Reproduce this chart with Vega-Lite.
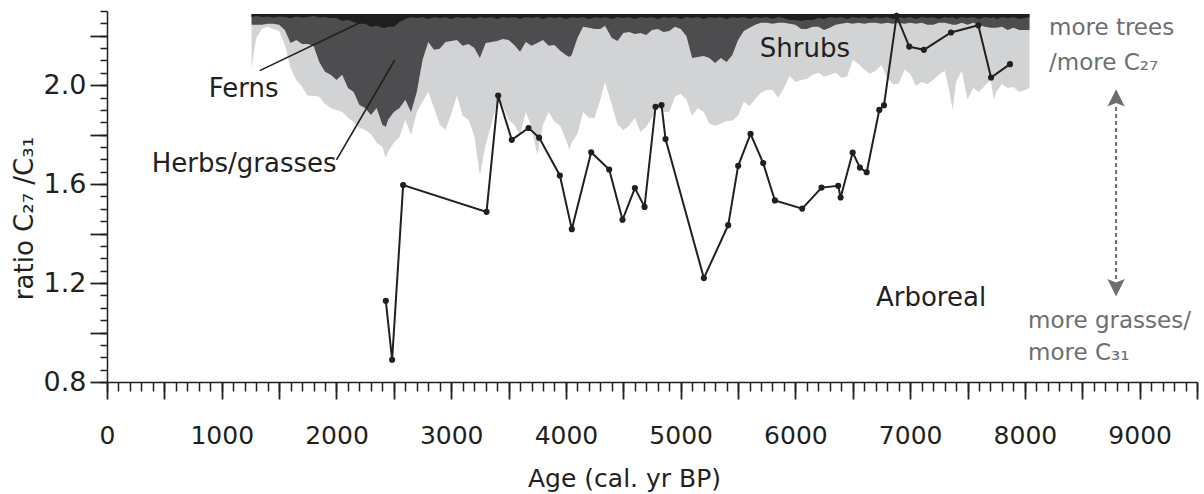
{
  "$schema": "https://vega.github.io/schema/vega-lite/v6.json",
  "width": 1090,
  "height": 371,
  "autosize": {"type": "none"},
  "padding": {"left": 107, "top": 11, "right": 7, "bottom": 112},
  "background": "white",
  "config": {
    "view": {"stroke": null},
    "axis": {"grid": false, "labelFont": "DejaVu Sans", "titleFont": "DejaVu Sans", "titleFontWeight": "normal", "domainColor": "#231f20", "tickColor": "#231f20", "labelColor": "#231f20", "titleColor": "#231f20", "domainWidth": 1.5, "tickWidth": 1.5}
  },
  "resolve": {"axis": {"x": "independent", "y": "independent"}},
  "datasets": {
    "pollen": [
      {"age":1260,"shrub":2.070,"herb":2.244,"fern":2.276},
      {"age":1300,"shrub":2.191,"herb":2.244,"fern":2.280},
      {"age":1350,"shrub":2.227,"herb":2.244,"fern":2.276},
      {"age":1400,"shrub":2.236,"herb":2.248,"fern":2.278},
      {"age":1450,"shrub":2.227,"herb":2.248,"fern":2.274},
      {"age":1500,"shrub":2.219,"herb":2.244,"fern":2.278},
      {"age":1550,"shrub":2.163,"herb":2.223,"fern":2.276},
      {"age":1600,"shrub":2.070,"herb":2.171,"fern":2.272},
      {"age":1650,"shrub":2.021,"herb":2.183,"fern":2.278},
      {"age":1700,"shrub":1.993,"herb":2.167,"fern":2.274},
      {"age":1750,"shrub":1.957,"herb":2.167,"fern":2.276},
      {"age":1800,"shrub":1.957,"herb":2.159,"fern":2.280},
      {"age":1850,"shrub":1.953,"herb":2.094,"fern":2.274},
      {"age":1900,"shrub":1.924,"herb":2.054,"fern":2.276},
      {"age":1950,"shrub":1.908,"herb":2.042,"fern":2.272},
      {"age":2000,"shrub":1.900,"herb":2.021,"fern":2.272},
      {"age":2050,"shrub":1.892,"herb":2.042,"fern":2.260},
      {"age":2100,"shrub":1.868,"herb":1.989,"fern":2.264},
      {"age":2150,"shrub":1.852,"herb":1.973,"fern":2.256},
      {"age":2200,"shrub":1.828,"herb":1.920,"fern":2.248},
      {"age":2250,"shrub":1.819,"herb":1.908,"fern":2.248},
      {"age":2300,"shrub":1.803,"herb":1.880,"fern":2.236},
      {"age":2350,"shrub":1.767,"herb":1.908,"fern":2.240},
      {"age":2400,"shrub":1.751,"herb":1.840,"fern":2.232},
      {"age":2430,"shrub":1.706,"herb":1.832,"fern":2.232},
      {"age":2450,"shrub":1.731,"herb":1.860,"fern":2.236},
      {"age":2500,"shrub":1.767,"herb":1.892,"fern":2.236},
      {"age":2550,"shrub":1.791,"herb":1.908,"fern":2.256},
      {"age":2600,"shrub":1.860,"herb":1.941,"fern":2.268},
      {"age":2650,"shrub":1.799,"herb":1.892,"fern":2.276},
      {"age":2700,"shrub":1.892,"herb":1.973,"fern":2.272},
      {"age":2750,"shrub":1.933,"herb":2.102,"fern":2.276},
      {"age":2800,"shrub":1.973,"herb":2.175,"fern":2.268},
      {"age":2850,"shrub":1.908,"herb":2.143,"fern":2.276},
      {"age":2900,"shrub":1.840,"herb":2.147,"fern":2.272},
      {"age":2950,"shrub":1.819,"herb":2.175,"fern":2.276},
      {"age":3000,"shrub":1.884,"herb":2.179,"fern":2.268},
      {"age":3050,"shrub":1.957,"herb":2.183,"fern":2.276},
      {"age":3100,"shrub":1.876,"herb":2.159,"fern":2.272},
      {"age":3150,"shrub":1.860,"herb":2.167,"fern":2.276},
      {"age":3200,"shrub":1.799,"herb":2.151,"fern":2.268},
      {"age":3250,"shrub":1.638,"herb":2.110,"fern":2.276},
      {"age":3300,"shrub":1.759,"herb":2.171,"fern":2.272},
      {"age":3350,"shrub":1.840,"herb":2.175,"fern":2.276},
      {"age":3400,"shrub":1.933,"herb":2.179,"fern":2.268},
      {"age":3450,"shrub":1.916,"herb":2.187,"fern":2.276},
      {"age":3500,"shrub":1.860,"herb":2.183,"fern":2.272},
      {"age":3550,"shrub":1.840,"herb":2.163,"fern":2.276},
      {"age":3600,"shrub":1.799,"herb":2.135,"fern":2.268},
      {"age":3650,"shrub":1.892,"herb":2.175,"fern":2.276},
      {"age":3700,"shrub":1.832,"herb":2.159,"fern":2.272},
      {"age":3750,"shrub":1.718,"herb":2.171,"fern":2.276},
      {"age":3800,"shrub":1.840,"herb":2.183,"fern":2.268},
      {"age":3850,"shrub":1.892,"herb":2.159,"fern":2.276},
      {"age":3900,"shrub":1.852,"herb":2.163,"fern":2.272},
      {"age":3950,"shrub":1.836,"herb":2.139,"fern":2.276},
      {"age":4000,"shrub":1.779,"herb":2.122,"fern":2.268},
      {"age":4030,"shrub":1.739,"herb":2.114,"fern":2.272},
      {"age":4050,"shrub":1.767,"herb":2.122,"fern":2.276},
      {"age":4100,"shrub":1.803,"herb":2.191,"fern":2.272},
      {"age":4150,"shrub":1.892,"herb":2.236,"fern":2.276},
      {"age":4200,"shrub":1.868,"herb":2.232,"fern":2.268},
      {"age":4250,"shrub":1.868,"herb":2.227,"fern":2.276},
      {"age":4300,"shrub":1.941,"herb":2.227,"fern":2.272},
      {"age":4340,"shrub":2.013,"herb":2.240,"fern":2.276},
      {"age":4400,"shrub":1.920,"herb":2.191,"fern":2.268},
      {"age":4450,"shrub":1.840,"herb":2.179,"fern":2.276},
      {"age":4500,"shrub":1.819,"herb":2.211,"fern":2.272},
      {"age":4550,"shrub":1.836,"herb":2.215,"fern":2.276},
      {"age":4600,"shrub":1.868,"herb":2.207,"fern":2.268},
      {"age":4650,"shrub":1.811,"herb":2.211,"fern":2.276},
      {"age":4700,"shrub":1.832,"herb":2.203,"fern":2.272},
      {"age":4750,"shrub":1.868,"herb":2.223,"fern":2.276},
      {"age":4800,"shrub":1.908,"herb":2.227,"fern":2.268},
      {"age":4850,"shrub":1.892,"herb":2.215,"fern":2.276},
      {"age":4900,"shrub":1.892,"herb":2.219,"fern":2.272},
      {"age":4950,"shrub":1.953,"herb":2.236,"fern":2.276},
      {"age":5000,"shrub":1.965,"herb":2.227,"fern":2.268},
      {"age":5050,"shrub":1.941,"herb":2.199,"fern":2.276},
      {"age":5100,"shrub":1.876,"herb":2.110,"fern":2.272},
      {"age":5150,"shrub":1.908,"herb":2.114,"fern":2.276},
      {"age":5200,"shrub":1.892,"herb":2.118,"fern":2.268},
      {"age":5250,"shrub":1.844,"herb":2.110,"fern":2.276},
      {"age":5300,"shrub":1.836,"herb":2.090,"fern":2.272},
      {"age":5350,"shrub":1.844,"herb":2.110,"fern":2.276},
      {"age":5400,"shrub":1.856,"herb":2.094,"fern":2.268},
      {"age":5450,"shrub":1.856,"herb":2.122,"fern":2.276},
      {"age":5500,"shrub":1.876,"herb":2.183,"fern":2.272},
      {"age":5550,"shrub":1.933,"herb":2.219,"fern":2.276},
      {"age":5600,"shrub":1.916,"herb":2.232,"fern":2.268},
      {"age":5650,"shrub":1.945,"herb":2.244,"fern":2.276},
      {"age":5700,"shrub":1.969,"herb":2.252,"fern":2.272},
      {"age":5750,"shrub":1.981,"herb":2.252,"fern":2.276},
      {"age":5800,"shrub":1.981,"herb":2.248,"fern":2.268},
      {"age":5850,"shrub":1.949,"herb":2.252,"fern":2.276},
      {"age":5900,"shrub":1.989,"herb":2.252,"fern":2.272},
      {"age":5950,"shrub":2.038,"herb":2.248,"fern":2.264},
      {"age":6000,"shrub":2.013,"herb":2.244,"fern":2.264},
      {"age":6050,"shrub":2.021,"herb":2.227,"fern":2.260},
      {"age":6100,"shrub":2.025,"herb":2.227,"fern":2.264},
      {"age":6150,"shrub":2.042,"herb":2.236,"fern":2.264},
      {"age":6200,"shrub":2.050,"herb":2.236,"fern":2.272},
      {"age":6250,"shrub":2.034,"herb":2.223,"fern":2.268},
      {"age":6300,"shrub":2.042,"herb":2.232,"fern":2.276},
      {"age":6350,"shrub":2.050,"herb":2.244,"fern":2.272},
      {"age":6400,"shrub":2.030,"herb":2.248,"fern":2.276},
      {"age":6450,"shrub":2.034,"herb":2.252,"fern":2.268},
      {"age":6500,"shrub":2.102,"herb":2.248,"fern":2.276},
      {"age":6550,"shrub":2.086,"herb":2.252,"fern":2.272},
      {"age":6600,"shrub":2.062,"herb":2.248,"fern":2.276},
      {"age":6650,"shrub":2.046,"herb":2.252,"fern":2.268},
      {"age":6700,"shrub":2.058,"herb":2.252,"fern":2.276},
      {"age":6750,"shrub":2.082,"herb":2.248,"fern":2.272},
      {"age":6800,"shrub":2.030,"herb":2.252,"fern":2.276},
      {"age":6850,"shrub":2.005,"herb":2.248,"fern":2.268},
      {"age":6900,"shrub":2.005,"herb":2.252,"fern":2.276},
      {"age":6950,"shrub":2.062,"herb":2.248,"fern":2.272},
      {"age":7000,"shrub":2.046,"herb":2.252,"fern":2.276},
      {"age":7050,"shrub":1.997,"herb":2.248,"fern":2.268},
      {"age":7100,"shrub":2.013,"herb":2.252,"fern":2.276},
      {"age":7150,"shrub":2.005,"herb":2.244,"fern":2.272},
      {"age":7200,"shrub":2.021,"herb":2.244,"fern":2.276},
      {"age":7250,"shrub":2.042,"herb":2.252,"fern":2.268},
      {"age":7300,"shrub":2.058,"herb":2.252,"fern":2.276},
      {"age":7340,"shrub":1.981,"herb":2.248,"fern":2.272},
      {"age":7370,"shrub":1.900,"herb":2.244,"fern":2.276},
      {"age":7400,"shrub":2.013,"herb":2.244,"fern":2.268},
      {"age":7450,"shrub":2.058,"herb":2.252,"fern":2.276},
      {"age":7500,"shrub":1.941,"herb":2.244,"fern":2.272},
      {"age":7550,"shrub":1.989,"herb":2.252,"fern":2.276},
      {"age":7600,"shrub":1.973,"herb":2.244,"fern":2.268},
      {"age":7650,"shrub":1.997,"herb":2.236,"fern":2.276},
      {"age":7700,"shrub":2.021,"herb":2.232,"fern":2.272},
      {"age":7730,"shrub":1.941,"herb":2.232,"fern":2.276},
      {"age":7750,"shrub":1.973,"herb":2.232,"fern":2.268},
      {"age":7800,"shrub":2.005,"herb":2.236,"fern":2.276},
      {"age":7850,"shrub":1.989,"herb":2.223,"fern":2.272},
      {"age":7900,"shrub":1.993,"herb":2.232,"fern":2.276},
      {"age":7950,"shrub":1.973,"herb":2.223,"fern":2.268},
      {"age":8000,"shrub":1.981,"herb":2.223,"fern":2.272},
      {"age":8040,"shrub":1.989,"herb":2.223,"fern":2.276}
    ],
    "ratio": [
      {"age":2430,"val":1.128},{"age":2485,"val":0.890},{"age":2581,"val":1.596},{"age":3308,"val":1.488},
      {"age":3409,"val":1.958},{"age":3528,"val":1.779},{"age":3674,"val":1.827},{"age":3766,"val":1.788},
      {"age":3947,"val":1.635},{"age":4051,"val":1.418},{"age":4220,"val":1.729},{"age":4377,"val":1.659},
      {"age":4493,"val":1.456},{"age":4601,"val":1.584},{"age":4685,"val":1.508},{"age":4781,"val":1.913},
      {"age":4833,"val":1.920},{"age":4868,"val":1.782},{"age":5202,"val":1.220},{"age":5414,"val":1.434},
      {"age":5501,"val":1.674},{"age":5609,"val":1.803},{"age":5719,"val":1.685},{"age":5821,"val":1.534},
      {"age":6059,"val":1.501},{"age":6228,"val":1.586},{"age":6373,"val":1.593},{"age":6394,"val":1.546},
      {"age":6499,"val":1.728},{"age":6562,"val":1.667},{"age":6621,"val":1.648},{"age":6731,"val":1.900},
      {"age":6772,"val":1.919},{"age":6882,"val":2.280},{"age":6992,"val":2.156},{"age":7120,"val":2.143},
      {"age":7356,"val":2.213},{"age":7594,"val":2.242},{"age":7705,"val":2.031},{"age":7870,"val":2.085}
    ],
    "leaders": [
      {"name":"Ferns","age":1331,"val":2.059,"age2":2290,"val2":2.272},
      {"name":"Herbs/grasses","age":2000,"val":1.698,"age2":2508,"val2":2.102}
    ],
    "notes": [
      {"text":"Ferns","age":887,"val":1.953,"kind":"main"},
      {"text":"Herbs/grasses","age":390,"val":1.650,"kind":"main"},
      {"text":"Shrubs","age":5690,"val":2.116,"kind":"main"},
      {"text":"Arboreal","age":6702,"val":1.106,"kind":"main"},
      {"text":"more trees","age":8210,"val":2.203,"kind":"side"},
      {"text":"/more C₂₇","age":8210,"val":2.062,"kind":"side"},
      {"text":"more grasses/","age":8027,"val":1.019,"kind":"side"},
      {"text":"more C₃₁","age":8027,"val":0.890,"kind":"side"}
    ],
    "arrow": [
      {"age":8795,"top":1.912,"bottom":1.213}
    ],
    "heads": [
      {"age":8795,"val":1.949,"dir":"up"},
      {"age":8795,"val":1.181,"dir":"down"}
    ]
  },
  "layer": [
    {
      "data": {"name": "pollen"},
      "mark": {"type": "area", "color": "#d1d3d4", "interpolate": "linear"},
      "encoding": {
        "x": {"field": "age", "type": "quantitative",
              "scale": {"domain": [0, 9500], "nice": false, "zero": false},
              "axis": {
                "orient": "bottom",
                "title": "Age (cal. yr BP)",
                "values": [0,500,1000,1500,2000,2500,3000,3500,4000,4500,5000,5500,6000,6500,7000,7500,8000,8500,9000,9500],
                "tickCount": 500,
                "labelExpr": "datum.value % 1000 === 0 ? datum.value + '' : ''",
                "tickSize": 17, "tickWidth": 1.8,
                "labelOverlap": false, "labelFlush": false, "labelBound": false,
                "labelFontSize": 25, "labelBaseline": "alphabetic", "labelPadding": 44,
                "titleFontSize": 25, "titleX": 517, "titleY": 104, "titleBaseline": "alphabetic", "titleAlign": "center"
              }},
        "y": {"field": "shrub", "type": "quantitative",
              "scale": {"domain": [0.8, 2.3], "nice": false, "zero": false},
              "axis": {
                "orient": "left",
                "title": "ratio C₂₇ /C₃₁",
                "values": [0.8,1.0,1.2,1.4,1.6,1.8,2.0,2.2],
                "tickCount": 500,
                "labelExpr": "(abs(datum.value*10 - round(datum.value*10)) < 0.001 && round(datum.value*10) % 4 === 0) ? format(datum.value, '.1f') : ''",
                "tickSize": 17, "tickWidth": 1.8,
                "labelOverlap": false, "labelFlush": false, "labelBound": false,
                "labelFontSize": 27, "labelPadding": 4,
                "titleFontSize": 26, "titleX": -83, "titleY": 207, "titleBaseline": "middle", "titleAlign": "center", "titleAngle": -90
              }},
        "y2": {"datum": 2.288}
      }
    },
    {
      "data": {"name": "pollen"},
      "mark": {"type": "area", "color": "#4d4d4f", "interpolate": "linear"},
      "encoding": {
        "x": {"field": "age", "type": "quantitative",
              "axis": {
                "orient": "bottom", "title": null, "domain": false, "labels": false,
                "values": [0,100,200,300,400,500,600,700,800,900,1000,1100,1200,1300,1400,1500,1600,1700,1800,1900,2000,2100,2200,2300,2400,2500,2600,2700,2800,2900,3000,3100,3200,3300,3400,3500,3600,3700,3800,3900,4000,4100,4200,4300,4400,4500,4600,4700,4800,4900,5000,5100,5200,5300,5400,5500,5600,5700,5800,5900,6000,6100,6200,6300,6400,6500,6600,6700,6800,6900,7000,7100,7200,7300,7400,7500,7600,7700,7800,7900,8000,8100,8200,8300,8400,8500,8600,8700,8800,8900,9000,9100,9200,9300,9400,9500],
                "tickCount": 500, "tickSize": 9
              }},
        "y": {"field": "herb", "type": "quantitative",
              "axis": {
                "orient": "left", "title": null, "domain": false, "labels": false,
                "values": [0.8,0.85,0.9,0.95,1.0,1.05,1.1,1.15,1.2,1.25,1.3,1.35,1.4,1.45,1.5,1.55,1.6,1.65,1.7,1.75,1.8,1.85,1.9,1.95,2.0,2.05,2.1,2.15,2.2,2.25,2.3],
                "tickCount": 500, "tickSize": 7
              }},
        "y2": {"datum": 2.288}
      }
    },
    {
      "data": {"name": "pollen"},
      "mark": {"type": "area", "color": "#1e1e1e", "interpolate": "linear"},
      "encoding": {
        "x": {"field": "age", "type": "quantitative", "axis": null},
        "y": {"field": "fern", "type": "quantitative", "axis": null},
        "y2": {"datum": 2.288}
      }
    },
    {
      "data": {"name": "leaders"},
      "mark": {"type": "rule", "color": "#231f20", "strokeWidth": 1.6},
      "encoding": {
        "x": {"field": "age", "type": "quantitative", "axis": null},
        "x2": {"field": "age2"},
        "y": {"field": "val", "type": "quantitative", "axis": null},
        "y2": {"field": "val2"}
      }
    },
    {
      "data": {"name": "ratio"},
      "mark": {"type": "line", "color": "#231f20", "strokeWidth": 2, "point": {"filled": true, "size": 38, "color": "#231f20", "opacity": 1}},
      "encoding": {
        "x": {"field": "age", "type": "quantitative", "axis": null},
        "y": {"field": "val", "type": "quantitative", "axis": null}
      }
    },
    {
      "data": {"name": "arrow"},
      "mark": {"type": "rule", "color": "#6d6e71", "strokeWidth": 2, "strokeDash": [4, 3]},
      "encoding": {
        "x": {"field": "age", "type": "quantitative", "axis": null},
        "y": {"field": "top", "type": "quantitative", "axis": null},
        "y2": {"field": "bottom"}
      }
    },
    {
      "data": {"name": "heads"},
      "transform": [{"filter": "datum.dir === 'up'"}],
      "mark": {"type": "point", "filled": true, "color": "#6d6e71", "opacity": 1, "size": 300, "shape": "M0,-1L1,1L0,0.6L-1,1Z"},
      "encoding": {
        "x": {"field": "age", "type": "quantitative", "axis": null},
        "y": {"field": "val", "type": "quantitative", "axis": null}
      }
    },
    {
      "data": {"name": "heads"},
      "transform": [{"filter": "datum.dir === 'down'"}],
      "mark": {"type": "point", "filled": true, "color": "#6d6e71", "opacity": 1, "size": 300, "shape": "M0,1L1,-1L0,-0.6L-1,-1Z"},
      "encoding": {
        "x": {"field": "age", "type": "quantitative", "axis": null},
        "y": {"field": "val", "type": "quantitative", "axis": null}
      }
    },
    {
      "data": {"name": "notes"},
      "transform": [{"filter": "datum.kind === 'main'"}],
      "mark": {"type": "text", "align": "left", "baseline": "alphabetic", "font": "DejaVu Sans", "fontSize": 26, "color": "#231f20"},
      "encoding": {
        "x": {"field": "age", "type": "quantitative", "axis": null},
        "y": {"field": "val", "type": "quantitative", "axis": null},
        "text": {"field": "text"}
      }
    },
    {
      "data": {"name": "notes"},
      "transform": [{"filter": "datum.kind === 'side'"}],
      "mark": {"type": "text", "align": "left", "baseline": "alphabetic", "font": "DejaVu Sans", "fontSize": 23, "color": "#6d6e71"},
      "encoding": {
        "x": {"field": "age", "type": "quantitative", "axis": null},
        "y": {"field": "val", "type": "quantitative", "axis": null},
        "text": {"field": "text"}
      }
    }
  ]
}
